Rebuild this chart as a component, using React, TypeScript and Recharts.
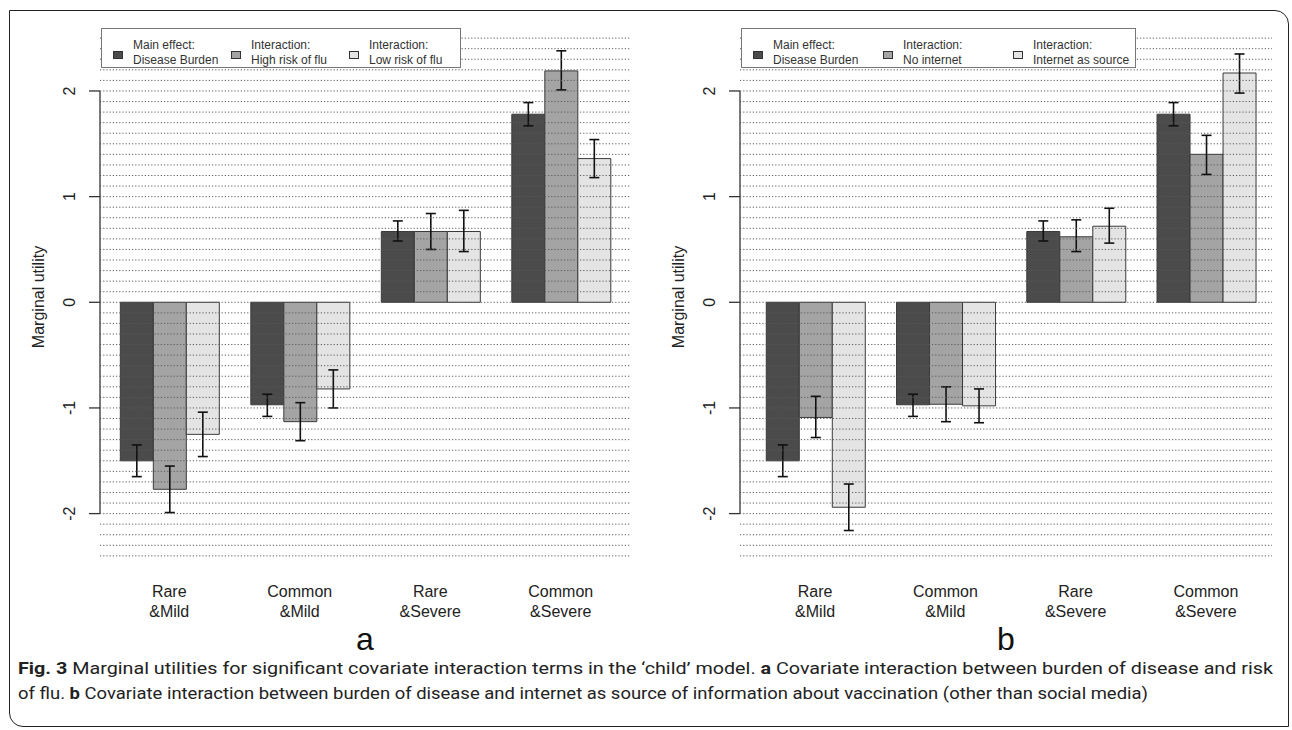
import React from 'react'
import { BarChart, Bar, XAxis, YAxis, ErrorBar, ReferenceLine, Label } from 'recharts'

// categories (two-line tick labels)
const CATEGORIES = ['Rare\n&Mild', 'Common\n&Mild', 'Rare\n&Severe', 'Common\n&Severe']

// panel a
const A_NAMES = ['Main effect:\nDisease Burden', 'Interaction:\nHigh risk of flu', 'Interaction:\nLow risk of flu']
const A_MAIN = [-1.5, -0.97, 0.67, 1.78]
const A_MAIN_LO = [-1.65, -1.08, 0.58, 1.67]
const A_MAIN_HI = [-1.35, -0.87, 0.77, 1.89]
const A_HIGH = [-1.77, -1.13, 0.67, 2.19]
const A_HIGH_LO = [-1.99, -1.31, 0.5, 2.01]
const A_HIGH_HI = [-1.55, -0.95, 0.84, 2.38]
const A_LOW = [-1.25, -0.82, 0.67, 1.36]
const A_LOW_LO = [-1.46, -1.0, 0.48, 1.18]
const A_LOW_HI = [-1.04, -0.64, 0.87, 1.54]

// panel b
const B_NAMES = ['Main effect:\nDisease Burden', 'Interaction:\nNo internet', 'Interaction:\nInternet as source']
const B_MAIN = [-1.5, -0.97, 0.67, 1.78]
const B_MAIN_LO = [-1.65, -1.08, 0.58, 1.67]
const B_MAIN_HI = [-1.35, -0.87, 0.77, 1.89]
const B_NONET = [-1.09, -0.965, 0.62, 1.4]
const B_NONET_LO = [-1.28, -1.13, 0.48, 1.21]
const B_NONET_HI = [-0.89, -0.8, 0.78, 1.58]
const B_NET = [-1.94, -0.98, 0.72, 2.17]
const B_NET_LO = [-2.16, -1.14, 0.56, 1.98]
const B_NET_HI = [-1.72, -0.82, 0.89, 2.35]

const Y_TICKS = [-2, -1, 0, 1, 2]
const Y_DOMAIN: [number, number] = [-2.6, 2.7]
const GRID_VALUES = Array.from({ length: 50 }, (_, i) => (i - 24) / 10)

const FILLS = ['#4b4b4b', '#a4a4a4', '#e4e4e4']
const FONT = '"Liberation Sans", Arial, sans-serif'

const PLOT_TOP = 17
const PLOT_H = 560
const X_AXIS_H = 92
const CHART_H = PLOT_TOP + PLOT_H + X_AXIS_H
const Y_AXIS_W = 100
const PX_PER_UNIT = PLOT_H / (Y_DOMAIN[1] - Y_DOMAIN[0])

function buildRows(series: number[][], lows: number[][], highs: number[][]) {
  return CATEGORIES.map((cat, i) => {
    const row: any = { cat }
    series.forEach((s, k) => {
      row['s' + k] = s[i]
      row['e' + k] = [s[i] - lows[k][i], highs[k][i] - s[i]]
    })
    return row
  })
}

const rowsA = buildRows([A_MAIN, A_HIGH, A_LOW], [A_MAIN_LO, A_HIGH_LO, A_LOW_LO], [A_MAIN_HI, A_HIGH_HI, A_LOW_HI])
const rowsB = buildRows([B_MAIN, B_NONET, B_NET], [B_MAIN_LO, B_NONET_LO, B_NET_LO], [B_MAIN_HI, B_NONET_HI, B_NET_HI])

const YTick = (props: any) => {
  const { y, payload } = props
  const v = payload.value
  const lx = Y_AXIS_W - 30
  return (
    <g>
      <line x1={Y_AXIS_W - 11} x2={Y_AXIS_W} y1={y} y2={y} stroke="#333" strokeWidth={1.3} />
      {v < 2 && <line x1={Y_AXIS_W} x2={Y_AXIS_W} y1={y} y2={y - PX_PER_UNIT} stroke="#333" strokeWidth={1.3} />}
      <text x={lx} y={y} transform={`rotate(-90 ${lx} ${y})`} textAnchor="middle" dominantBaseline="central"
        fontSize={16} fontFamily={FONT} fill="#222">{String(v)}</text>
    </g>
  )
}

const XTick = (props: any) => {
  const { x, y, payload } = props
  const [top, bottom] = String(payload.value).split('\n')
  return (
    <text x={x} y={y} textAnchor="middle" fontSize={16} fontFamily={FONT} fill="#222">
      <tspan x={x} dy={20}>{top}</tspan>
      <tspan x={x} dy={20}>{bottom}</tspan>
    </text>
  )
}

const YTitle = (props: any) => {
  const vb = props.viewBox || { x: 0, y: PLOT_TOP, height: PLOT_H }
  const cx = vb.x + 38
  const cy = vb.y + vb.height / 2
  return (
    <text x={cx} y={cy} transform={`rotate(-90 ${cx} ${cy})`} textAnchor="middle" dominantBaseline="central"
      fontSize={16} fontFamily={FONT} fill="#222">Marginal utility</text>
  )
}

function LegendBox({ names, textW, boxW }: any) {
  return (
    <div style={{ position: 'absolute', top: 28, left: 101, width: boxW, height: 40, boxSizing: 'border-box',
      border: '1px solid #777', background: '#fff', display: 'flex', paddingLeft: 11, paddingTop: 9,
      fontFamily: FONT, fontSize: 12, lineHeight: '15px', color: '#333' }}>
      {names.map((n: string, i: number) => {
        const [l1, l2] = n.split('\n')
        return (
          <div key={i} style={{ display: 'flex', alignItems: 'center', marginRight: 10 }}>
            <span style={{ width: 10, height: 8, boxSizing: 'border-box', border: '1px solid #333',
              background: FILLS[i], marginRight: 10, marginTop: 4 }} />
            <div style={{ width: textW, whiteSpace: 'nowrap' }}>{l1}<br />{l2}</div>
          </div>
        )
      })}
    </div>
  )
}

function Panel({ rows, names, letter, width, padL, padR, textW, boxW }: any) {
  return (
    <div style={{ position: 'relative', width, height: CHART_H }}>
      <div style={{ position: 'absolute', left: 0, top: 0 }}>
        <BarChart width={width} height={CHART_H} data={rows}
          margin={{ top: PLOT_TOP, right: 10, bottom: 0, left: 0 }} barCategoryGap="12.5%" barGap={0}>
          <XAxis dataKey="cat" axisLine={false} tickLine={false} tickSize={0} tickMargin={0} interval={0}
            height={X_AXIS_H} padding={{ left: padL, right: padR }} tick={<XTick />}>
            <Label value={letter} position="insideBottom" offset={19} fontSize={32} fontFamily={FONT} fill="#111" />
          </XAxis>
          <YAxis type="number" domain={Y_DOMAIN} ticks={Y_TICKS} width={Y_AXIS_W} axisLine={false} tickLine={false}
            allowDataOverflow tick={<YTick />}>
            <Label content={<YTitle />} />
          </YAxis>
          {[0, 1, 2].map(k => (
            <Bar key={k} dataKey={'s' + k} name={names[k]} fill={FILLS[k]} stroke="#3a3a3a" strokeWidth={1}
              isAnimationActive={false}>
              <ErrorBar dataKey={'e' + k} width={5} stroke="#111" strokeWidth={1.6} direction="y" />
            </Bar>
          ))}
        </BarChart>
      </div>
      {/* dotted grid drawn over the bars, as in the original figure */}
      <div style={{ position: 'absolute', left: 0, top: 0, zIndex: 2 }}>
        <BarChart width={width} height={CHART_H} data={rows}
          margin={{ top: PLOT_TOP, right: 10, bottom: X_AXIS_H, left: Y_AXIS_W }}>
          <XAxis dataKey="cat" hide />
          <YAxis type="number" domain={Y_DOMAIN} hide allowDataOverflow />
          {GRID_VALUES.map(v => (
            <ReferenceLine key={v} y={v} stroke="#5a5a5a" strokeDasharray="1.2 2" strokeWidth={1} />
          ))}
        </BarChart>
      </div>
      <div style={{ position: 'absolute', left: 0, top: 0, zIndex: 3 }}>
        <LegendBox names={names} textW={textW} boxW={boxW} />
      </div>
    </div>
  )
}

export default function App() {
  return (
    <div style={{ position: 'absolute', left: 0, top: 0, width: 1292, height: 730, background: '#fff', overflow: 'hidden' }}>
      <div style={{ position: 'absolute', left: 9, top: 10, width: 1280, height: 717, boxSizing: 'border-box',
        border: '1.6px solid #222', borderTopRightRadius: 14, borderBottomLeftRadius: 14 }} />
      <div style={{ position: 'absolute', left: 0, top: 0 }}>
        <Panel rows={rowsA} names={A_NAMES} letter="a" width={640} padL={4} padR={4} textW={88} boxW={360} />
      </div>
      <div style={{ position: 'absolute', left: 640, top: 0 }}>
        <Panel rows={rowsB} names={B_NAMES} letter="b" width={642} padL={10} padR={1} textW={100} boxW={395} />
      </div>
      <svg style={{ position: 'absolute', left: 0, top: 654 }} width={1292} height={70}>
        <text x={18} y={20} fontSize={17} fontFamily='Roboto, "Open Sans", sans-serif' fill="#222"
          textLength={1255} lengthAdjust="spacingAndGlyphs">
          <tspan fontWeight="bold">Fig. 3</tspan> Marginal utilities for significant covariate interaction terms in the ‘child’ model. <tspan fontWeight="bold">a</tspan> Covariate interaction between burden of disease and risk
        </text>
        <text x={18} y={45} fontSize={17} fontFamily='Roboto, "Open Sans", sans-serif' fill="#222"
          textLength={1130} lengthAdjust="spacingAndGlyphs">
          of flu. <tspan fontWeight="bold">b</tspan> Covariate interaction between burden of disease and internet as source of information about vaccination (other than social media)
        </text>
      </svg>
    </div>
  )
}
